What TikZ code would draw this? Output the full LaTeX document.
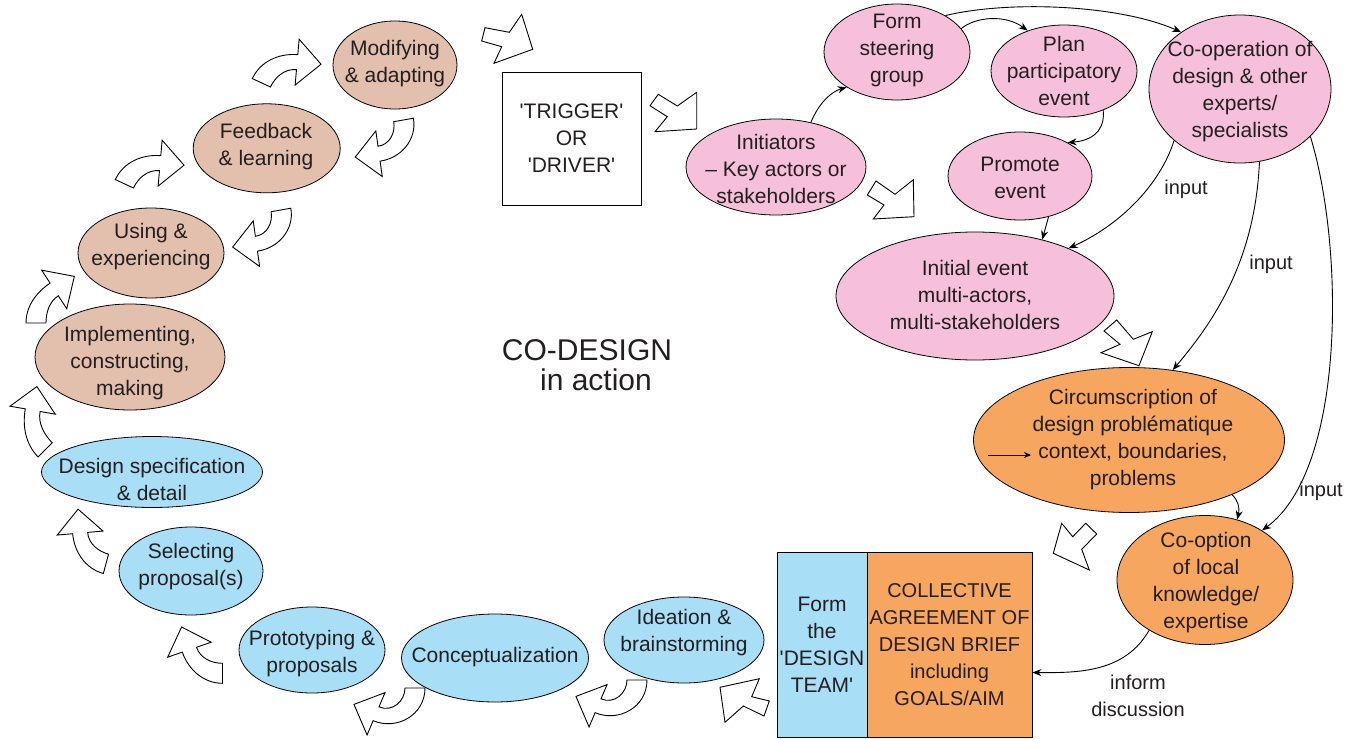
\documentclass[tikz,border=0pt]{standalone}
\usepackage{fontspec}
\setmainfont{Liberation Sans}
\usetikzlibrary{calc,shapes.geometric,arrows.meta}
\definecolor{cbrown}{HTML}{E3BFAE}
\definecolor{cblue}{HTML}{A9DEF7}
\definecolor{cpink}{HTML}{F6C0DA}
\definecolor{corange}{HTML}{F6A65E}
\definecolor{ctext}{HTML}{231F20}
\newcommand\cabt{10}
\newcommand\cabh{7.5}
\newcommand\cahh{23}
\newcommand\caL{24}
% curved block arrow: {cx,cy}{R}{theta1}{theta2}{sign}
\newcommand\carrow[5]{%
 \pgfmathsetmacro\cak{4/3*tan(abs(#4-#3)/4)}%
 \draw[barrow] ($(#1)+(#3:{#2+\cabt})$)
  .. controls ($(#1)+(#3:{#2+\cabt})+({#3+(#5)*90}:{\cak*(#2+\cabt)})$) and ($(#1)+(#4:{#2+\cabh})+({#4-(#5)*90}:{\cak*(#2+\cabh)})$) .. ($(#1)+(#4:{#2+\cabh})$)
  -- ($(#1)+(#4:{#2+\cahh})$) -- ($(#1)+(#4:#2)+({#4+(#5)*90}:\caL)$) -- ($(#1)+(#4:{#2-\cahh})$) -- ($(#1)+(#4:{#2-\cabh})$)
  .. controls ($(#1)+(#4:{#2-\cabh})+({#4-(#5)*90}:{\cak*(#2-\cabh)})$) and ($(#1)+(#3:{#2-\cabt})+({#3+(#5)*90}:{\cak*(#2-\cabt)})$) .. ($(#1)+(#3:{#2-\cabt})$)
  -- cycle;}
\begin{document}
\begin{tikzpicture}[x=1pt,y=-1pt,
  ellE/.style={ellipse, draw=black, line width=0.8pt, inner sep=0pt},
  boxE/.style={rectangle, draw=black, line width=0.8pt, inner sep=0pt, align=center, font=\fontsize{21}{27}\selectfont, text=ctext},
  txt/.style={align=center, font=\fontsize{21}{27}\selectfont, text=ctext, inner sep=0pt},
  lbl/.style={align=center, font=\fontsize{20}{27}\selectfont, text=ctext, inner sep=0pt},
  conn/.style={line width=0.9pt, -{Stealth[length=9pt,width=7pt]}},
  barrow/.style={draw=black, fill=white, line width=0.9pt, line join=miter}]
\useasboundingbox (0,0) rectangle (1353,739);

% ---------- brown ellipses ----------
\node[ellE, fill=cbrown, minimum width=124, minimum height=88] (modE) at (395,65) {};
\node[txt] (modT) at (395,63.5) {Modifying\\\& adapting};
\node[ellE, fill=cbrown, minimum width=147, minimum height=89] (feedE) at (266.7,148.3) {};
\node[txt] (feedT) at (266,146.5) {Feedback\\\& learning};
\node[ellE, fill=cbrown, minimum width=146, minimum height=90] (useE) at (151,253) {};
\node[txt] (useT) at (151,246.5) {Using \&\\experiencing};
\node[ellE, fill=cbrown, minimum width=190, minimum height=106] (implE) at (130,357) {};
\node[txt] (implT) at (130,363) {Implementing,\\constructing,\\making};

% ---------- blue ellipses ----------
\node[ellE, fill=cblue, minimum width=221, minimum height=71] (specE) at (152,472) {};
\node[txt] (specT) at (152,479) {Design specification\\\& detail};
\node[ellE, fill=cblue, minimum width=144, minimum height=88] (selE) at (191,571) {};
\node[txt] (selT) at (191,567) {Selecting\\proposal(s)};
\node[ellE, fill=cblue, minimum width=146, minimum height=86] (protoE) at (312,650) {};
\node[txt] (protoT) at (312,653.5) {Prototyping \&\\proposals};
\node[ellE, fill=cblue, minimum width=187, minimum height=88] (concE) at (495,658) {};
\node[txt] (concT) at (495,657) {Conceptualization};
\node[ellE, fill=cblue, minimum width=160, minimum height=86] (ideaE) at (684,640) {};
\node[txt] (ideaT) at (684,632.5) {Ideation \&\\brainstorming};

% ---------- boxes ----------
\node[boxE, fill=white, minimum width=139, minimum height=133] (trig) at (571.5,138.5) {\textquotesingle TRIGGER\textquotesingle\\OR\\\textquotesingle DRIVER\textquotesingle};
\node[boxE, fill=cblue, minimum width=90, minimum height=185] (team) at (822,644.5) {Form\\the\\\textquotesingle DESIGN\\TEAM\textquotesingle};
\node[boxE, fill=corange, minimum width=165, minimum height=185, font=\fontsize{20}{27}\selectfont] (brief) at (949.5,644.5) {COLLECTIVE\\AGREEMENT OF\\DESIGN BRIEF\\including\\GOALS/AIM};

% ---------- pink ellipses ----------
\node[ellE, fill=cpink, minimum width=180, minimum height=96] (iniE) at (776,167) {};
\node[txt] (iniT) at (776,168.5) {Initiators\\– Key actors or\\stakeholders};
\node[ellE, fill=cpink, minimum width=146, minimum height=96] (formE) at (897,52) {};
\node[txt] (formT) at (897,50) {Form\\steering\\group};
\node[ellE, fill=cpink, minimum width=146, minimum height=92] (planE) at (1064,71) {};
\node[txt] (planT) at (1064,70.5) {Plan\\participatory\\event};
\node[ellE, fill=cpink, minimum width=144, minimum height=88] (promE) at (1020,176) {};
\node[txt] (promT) at (1020,178) {Promote\\event};
\node[ellE, fill=cpink, minimum width=182, minimum height=148] (coopE) at (1240,89) {};
\node[txt] (coopT) at (1240,92) {Co-operation of\\design \& other\\experts/\\specialists};
\node[ellE, fill=cpink, minimum width=278, minimum height=128] (initE) at (975,296) {};
\node[txt] (initT) at (975,295) {Initial event\\multi-actors,\\multi-stakeholders};

% ---------- orange ellipses ----------
\node[ellE, fill=corange, minimum width=311, minimum height=145] (circE) at (1129,440) {};
\node[txt] (circT) at (1133,439.5) {Circumscription of\\design problématique\\context, boundaries,\\problems};
\node[ellE, fill=corange, minimum width=176, minimum height=129] (cooptE) at (1205,580) {};
\node[txt] (cooptT) at (1206,583) {Co-option\\of local\\knowledge/\\expertise};

% ---------- centre title ----------
\node[txt, font=\fontsize{30}{30}\selectfont] (cod1) at (587,350) {CO-DESIGN};
\node[txt, font=\fontsize{30}{30}\selectfont] (cod2) at (596,380) {in action};

% ---------- straight block arrows ----------
\draw[barrow] (485,27.7) -- (481.7,41) -- (501.7,46.7) -- (494,63.3) -- (532.7,49.3) -- (521.7,14.3) -- (509.3,32.3) -- cycle;
\draw[barrow] (658.3,94.3) -- (650,105.7) -- (667.3,116.7) -- (655,131.7) -- (696.7,129) -- (696.7,92.3) -- (677.3,106) -- cycle;
\draw[barrow] (876,181) -- (867.3,195) -- (884,205) -- (873.3,219) -- (914,216.7) -- (913.3,179.7) -- (895,194.3) -- cycle;
\draw[barrow] (1116.7,320) -- (1104,331) -- (1120,344.3) -- (1101,352.7) -- (1139,365.7) -- (1152.3,331.7) -- (1133.3,339.3) -- cycle;
\draw[barrow] (1061.7,523.3) -- (1053.3,553.3) -- (1089.3,570) -- (1081.7,549.3) -- (1096.7,534) -- (1085.7,523.3) -- (1072.7,536.7) -- cycle;
\draw[barrow] (720,687.3) -- (759.3,678.7) -- (751.7,696.7) -- (769.3,701) -- (764,716) -- (743.3,706) -- (725,722.3) -- cycle;

% ---------- curved block arrows ----------
\carrow{609,680}{28}{0}{113}{1}
\carrow{387,688}{28}{0}{113}{1}
\carrow{222.5,638.3}{35}{90}{161}{1}
\carrow{115,530}{35}{105}{175}{1}
\carrow{77,418}{45}{135}{190}{1}
\carrow{76,323}{40}{180}{237}{1}
\carrow{157,199}{36}{205}{275}{1}
\carrow{294,98}{36}{205}{275}{1}
\carrow{375,125}{29}{-10}{82}{1}
\carrow{252.4,215}{29}{-10}{82}{1}

% ---------- connectors ----------
\draw[conn] (iniE.52) .. controls (818,105) and (830,92) .. (formE.215);
\draw[conn] (formE.20) .. controls (975,17) and (1005,14) .. (planE.132);
\draw[conn] (formE.37) .. controls (1010,0) and (1120,5) .. (coopE.136);
\draw[conn] (planE.-45) .. controls (1105,125) and (1098,140) .. (promE.35);
\draw[conn] (promE.-55) -- (initE.40);
\draw[conn] (coopE.218) .. controls (1160,185) and (1120,225) .. (initE.27);
\draw[conn] (coopE.-75) .. controls (1255,260) and (1215,320) .. (circE.58);
\draw[conn] (coopE.-34) .. controls (1345,250) and (1345,470) .. (cooptE.41);
\draw[conn] (circE.-28) .. controls (1238,500) and (1240,508) .. (cooptE.62);
\draw[conn] (cooptE.222) .. controls (1125,672) and (1080,673) .. ([yshift=-28pt]brief.east);
\coordinate (ia) at (988,455);
\coordinate (ib) at (1031,455);
\draw[line width=0.9pt, -{Stealth[length=7pt,width=6pt]}] (ia) -- (ib);

% ---------- labels ----------
\node[lbl] (in1) at (1186,189) {input};
\node[lbl] (in2) at (1271,264) {input};
\node[lbl] (in3) at (1321,491) {input};
\node[lbl] (inf) at (1138,695.5) {inform\\discussion};
\end{tikzpicture}
\end{document}
